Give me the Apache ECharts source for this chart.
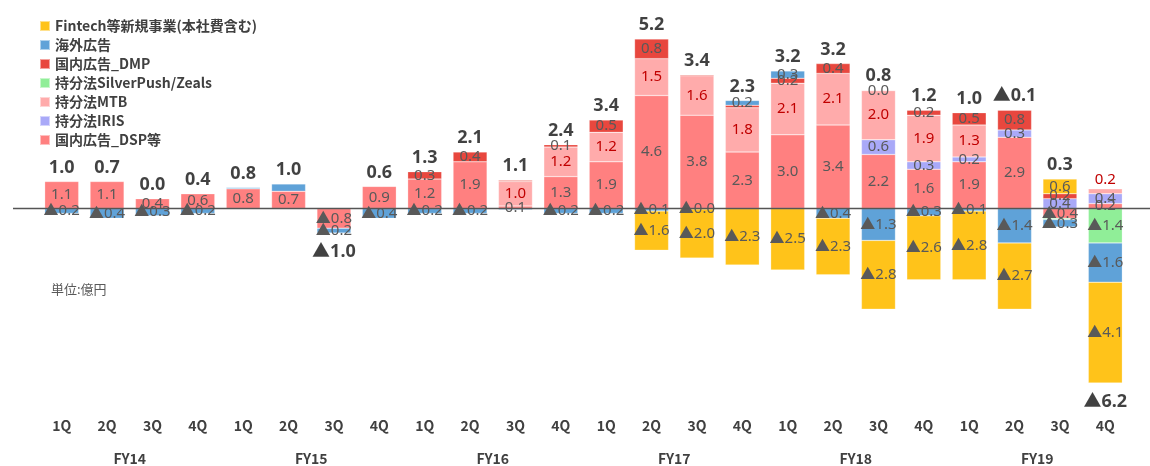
<!DOCTYPE html>
<html>
<head>
<meta charset="utf-8">
<script src="https://cdn.jsdelivr.net/npm/echarts@6/dist/echarts.min.js"></script>
<style>html,body{margin:0;padding:0;background:#fff}#c{width:1150px;height:466px}</style>
</head>
<body>
<div id="c"></div>
<script>
// ---- data ----
const quarters = ['1Q','2Q','3Q','4Q','1Q','2Q','3Q','4Q','1Q','2Q','3Q','4Q','1Q','2Q','3Q','4Q','1Q','2Q','3Q','4Q','1Q','2Q','3Q','4Q'];
const fiscalYears = ['FY14','FY15','FY16','FY17','FY18','FY19'];
const seriesNames = ['国内広告_DSP等','持分法IRIS','持分法MTB','持分法SilverPush/Zeals','国内広告_DMP','海外広告','Fintech等新規事業(本社費含む)'];
const dsp     = [1.1,1.1,0.4,0.6,0.8,0.7,-0.8,0.9,1.2,1.9,0.1,1.3,1.9,4.6,3.8,2.3,3.0,3.4,2.2,1.6,1.9,2.9,-0.4,0.2];
const iris    = [null,null,null,null,null,null,null,null,null,null,null,null,null,null,null,null,null,null,0.6,0.3,0.2,0.3,0.4,0.4];
const mtb     = [null,null,null,null,null,null,null,null,null,null,1.0,1.2,1.2,1.5,1.6,1.8,2.1,2.1,2.0,1.9,1.3,null,null,0.2];
const silver  = [null,null,null,null,null,null,null,null,null,null,null,null,null,null,null,null,null,null,null,null,null,null,-0.05,-1.4];
const dmp     = [null,null,null,null,null,null,null,null,0.3,0.4,0.05,0.1,0.5,0.8,0.05,0.1,0.2,0.4,0.02,0.2,0.5,0.8,0.2,null];
const kaigai  = [-0.2,-0.4,-0.3,-0.2,0.05,0.3,-0.2,-0.4,-0.2,-0.2,-0.05,-0.2,-0.2,-0.1,-0.02,0.2,0.3,-0.4,-1.3,-0.3,-0.1,-1.4,-0.3,-1.6];
const fintech = [null,null,null,null,null,null,null,null,null,null,null,null,null,-1.6,-2.0,-2.3,-2.5,-2.3,-2.8,-2.6,-2.8,-2.7,0.6,-4.1];
const totals  = [1.0,0.7,0.0,0.4,0.8,1.0,-1.0,0.6,1.3,2.1,1.1,2.4,3.4,5.2,3.4,2.3,3.2,3.2,0.8,1.2,1.0,-0.1,0.3,-6.2];
// labels not printed in the reference (by quarter index)
const hiddenLabels = {'持分法SilverPush/Zeals':[22],'国内広告_DMP':[10,14,15],'海外広告':[4,5,10]};
const labelAboveBar = {'持分法MTB':[23]};

const values = [dsp, iris, mtb, silver, dmp, kaigai, fintech];
const colors = ['#FF8080','#A9A9F8','#FFABAB','#90EE98','#E8473E','#5FA2D8','#FFC31A'];
const labelColors = ['#595959','#595959','#C00000','#595959','#595959','#595959','#595959'];
const FONT = '"Noto Sans CJK JP", "Noto Sans", sans-serif';
const NUMFONT = '"Noto Sans", "Noto Sans CJK JP", sans-serif';

function fmt(v){ return (v < 0 ? '▲' : '') + Math.abs(v).toFixed(1); }

const barSeries = seriesNames.map((name, si) => ({
  name, type: 'bar', stack: 'all', barWidth: 34,
  itemStyle: { color: colors[si], borderColor: 'rgba(255,255,255,0.5)', borderWidth: 0.5 },
  label: { show: true, position: 'inside', color: labelColors[si], fontSize: 15, fontFamily: NUMFONT,
           formatter: p => fmt(p.value) },
  data: values[si].map((v, i) => {
    if (v === null) return null;
    const item = { value: v };
    if ((hiddenLabels[name] || []).includes(i)) item.label = { show: false };
    if ((labelAboveBar[name] || []).includes(i)) item.label = { position: 'top', distance: 2 };
    return item;
  })
}));

const posSum = quarters.map((_, i) => values.reduce((s, a) => s + (a[i] > 0 ? a[i] : 0), 0));
const negSum = quarters.map((_, i) => values.reduce((s, a) => s + (a[i] < 0 ? a[i] : 0), 0));

const totalSeries = {
  name: 'total', type: 'scatter', symbolSize: 0, z: 20, silent: true,
  data: totals.map((t, i) => {
    const below = t <= -0.5;
    return { value: below ? negSum[i] : posSum[i],
      label: { show: true, position: below ? 'bottom' : 'top', distance: below ? 10 : 5,
               formatter: fmt(t), color: '#111', fontSize: 18, fontWeight: 'bold', fontFamily: NUMFONT } };
  })
};

const chart = echarts.init(document.getElementById('c'));
chart.setOption({
  animation: false,
  textStyle: { fontFamily: FONT },
  title: { text: '単位:億円', left: 46, top: 278, textStyle: { fontSize: 13, fontWeight: 'normal', color: '#595959', fontFamily: FONT } },
  legend: {
    data: seriesNames.slice().reverse(), orient: 'vertical', left: 34, top: 14,
    itemWidth: 10, itemHeight: 10, itemGap: 5, icon: 'rect',
    textStyle: { fontSize: 14, fontWeight: 'bold', color: '#404040', fontFamily: FONT }
  },
  grid: { left: 39, right: 22, top: 12, bottom: 61 },
  xAxis: [
    { type: 'category', data: quarters, position: 'bottom',
      axisLine: { show: false, onZero: false }, axisTick: { show: false },
      axisLabel: { fontSize: 14, color: '#404040', fontWeight: 'bold', margin: 14, fontFamily: FONT } },
    { type: 'category', data: fiscalYears, position: 'bottom', offset: 33,
      axisLine: { show: false, onZero: false }, axisTick: { show: false },
      axisLabel: { fontSize: 14, color: '#404040', fontWeight: 'bold', margin: 14, fontFamily: FONT } }
  ],
  yAxis: { type: 'value', min: -8, max: 8, show: false, splitLine: { show: false } },
  series: barSeries.concat([totalSeries])
});
const yZero = chart.convertToPixel({ yAxisIndex: 0 }, 0);
chart.setOption({
  graphic: [{ type: 'line', z: 100, shape: { x1: 13, y1: yZero, x2: 1150, y2: yZero },
              style: { stroke: '#555', lineWidth: 1.5 } }]
});
</script>
</body>
</html>
